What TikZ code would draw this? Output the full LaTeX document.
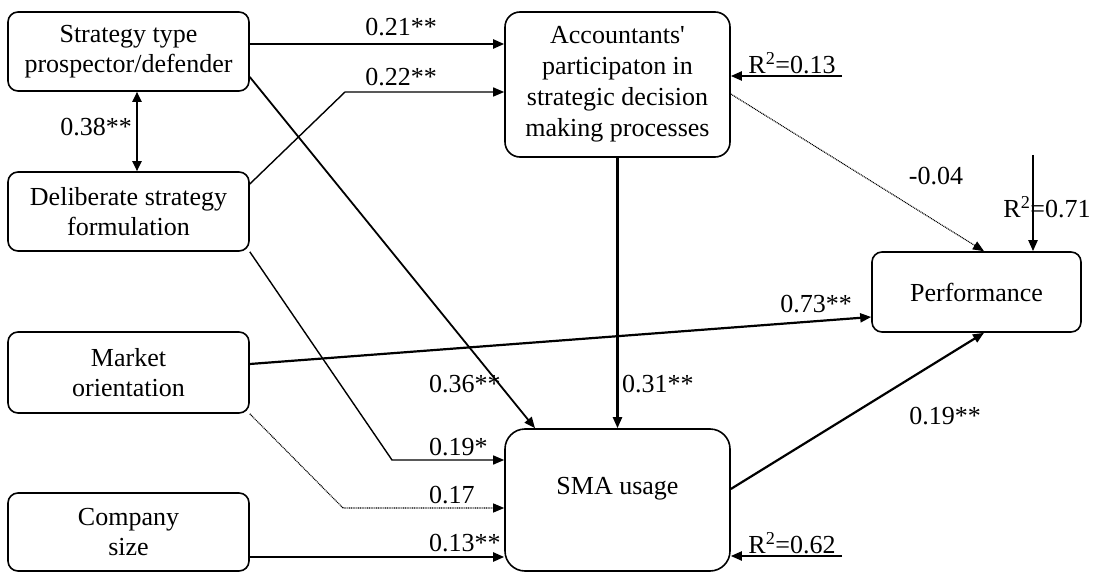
\documentclass[tikz,border=0pt]{standalone}
\usepackage{fontspec}
\setmainfont{Liberation Serif}[Ligatures=TeXOff]
\usetikzlibrary{arrows.meta,calc}
\begin{document}
\begin{tikzpicture}[x=1pt,y=-1pt,
  box/.style={draw,line width=1.6pt,rounded corners=10pt,align=center,inner sep=0pt,
    font=\fontsize{26}{30}\selectfont},
  lbl/.style={inner sep=0pt,font=\fontsize{26}{30}\selectfont},
  arr/.style={line width=2.2pt,-{Triangle[length=11pt,width=9pt]}},
  thinarr/.style={line width=1.4pt,-{Triangle[length=11pt,width=9pt]}},
  dotarr/.style={line width=1.1pt,dash pattern=on 1pt off 0.8pt,-{Triangle[length=11pt,width=9pt]}}
]
\useasboundingbox (0,0) rectangle (1100,572);
% boxes
\node[box,minimum width=241pt,minimum height=79pt] (strat) at (128.5,51.5) {Strategy type\\prospector/defender};
\node[box,minimum width=241pt,minimum height=79pt] (delib) at (128.5,211.5) {Deliberate strategy\\formulation};
\node[box,minimum width=241pt,minimum height=81pt] (market) at (128.5,372.5) {Market\\orientation};
\node[box,minimum width=241pt,minimum height=78pt] (company) at (128.5,532) {Company\\size};
\node[box,rounded corners=15pt,minimum width=225pt,minimum height=145pt,font=\fontsize{26}{31}\selectfont] (acc) at (617.5,84.5) {Accountants'\\participaton in\\strategic decision\\making processes};
\node[box,minimum width=209pt,minimum height=80pt] (perf) at (976.5,292) {Performance};
\node[box,rounded corners=20pt,minimum width=225pt,minimum height=142pt,text height=18pt,text depth=30pt] (sma) at (617.5,500) {SMA usage};
% bend points and free ends
\coordinate (b1) at (345,92);
\coordinate (b2) at (392,460);
\coordinate (b3) at (343,508);
\coordinate (r1) at (842,76);
\coordinate (r2) at (1033,155);
\coordinate (r3) at (842,556);
% connectors
\draw[arr] (strat.east |- 0,44) -- (acc.west |- 0,44);
\draw[thinarr] (delib.east |- 0,184) -- (b1) -- (acc.west |- b1);
\draw[line width=2pt,{Triangle[length=10pt,width=9pt]}-{Triangle[length=10pt,width=9pt]}] (strat.south -| 137,0) -- (delib.north -| 137,0);
\draw[line width=1.8pt,-{Triangle[length=11pt,width=9pt]}] (strat.east |- 0,77) -- (sma.north -| 535,0);
\draw[thinarr] (delib.south east) -- (b2) -- (sma.west |- b2);
\draw[dotarr] (market.south east) -- (b3) -- (sma.west |- b3);
\draw[arr] (company.east |- 0,557) -- (sma.west |- 0,557);
\draw[arr] (market.east |- 0,364) -- (perf.west |- 0,317);
\draw[arr] (acc.south) -- (sma.north);
\draw[dotarr] (acc.east |- 0,94) -- (perf.north -| 984,0);
\draw[arr] (sma.east |- 0,489) -- (perf.south -| 984,0);
% labels
\node[lbl] (l021) at (401,27) {0.21**};
\node[lbl] (l022) at (401,77) {0.22**};
\node[lbl,anchor=east] (l038) at (132,127) {0.38**};
\node[lbl] (l004) at (936,176) {-0.04};
\node[lbl] (lr13) at (792,63) {R\textsuperscript{2}=0.13};
\node[lbl] (lr71) at (1047,207) {R\textsuperscript{2}=0.71};
\node[lbl] (l073) at (816,304) {0.73**};
\node[lbl,anchor=west] (l036) at (429,384) {0.36**};
\node[lbl,anchor=west] (l031) at (622,384) {0.31**};
\node[lbl,anchor=west] (l019a) at (429,447) {0.19*};
\node[lbl,anchor=west] (l017) at (429,495) {0.17};
\node[lbl,anchor=west] (l013) at (429,543) {0.13**};
\node[lbl] (l019b) at (945,416) {0.19**};
\node[lbl] (lr62) at (792,543) {R\textsuperscript{2}=0.62};
% R^2 arrows
\draw[arr] (r1) -- (acc.east |- r1);
\draw[arr] (r2) -- (perf.north -| r2);
\draw[arr] (r3) -- (sma.east |- r3);
\end{tikzpicture}
\end{document}
